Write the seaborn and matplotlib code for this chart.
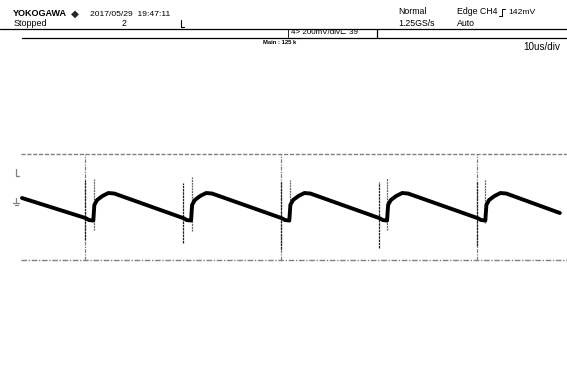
import matplotlib
matplotlib.use("Agg")
import matplotlib.pyplot as plt
from matplotlib.lines import Line2D
from matplotlib import font_manager
import seaborn as sns
import pandas as pd

# ---- captured trace (CH4), time in microseconds, level in millivolts ----
time_us = [0.0,
           11.5, 11.9, 12.4, 13.2, 13.4, 13.9, 14.9, 16.0, 17.1,
           29.6, 30.0, 30.5, 31.3, 31.5, 32.0, 33.0, 34.1, 35.2,
           47.8, 48.2, 48.7, 49.5, 49.7, 50.2, 51.2, 52.3, 53.4,
           65.9, 66.3, 66.8, 67.6, 67.8, 68.3, 69.3, 70.4, 71.5,
           84.1, 84.5, 85.0, 85.8, 86.0, 86.5, 87.5, 88.6, 89.7,
           99.6]
level_mv = [18.5,
            -54, -57, -63, -65, -7, 11, 26, 37, 35,
            -54, -57, -63, -65, -7, 11, 26, 37, 35,
            -54, -57, -63, -65, -7, 11, 26, 37, 35,
            -54, -57, -63, -65, -7, 11, 26, 37, 35,
            -54, -57, -63, -65, -7, 11, 26, 37, 35,
            -37]

# switching spikes (narrow glitches) and the ringing that follows them
spike_t = [11.7, 29.8, 48.0, 66.1, 84.3]
spike_hi = [85, 74, 78, 78, 78]
spike_lo = [-137, -148, -170, -167, -159]
ring_t = [13.3, 31.5, 49.6, 67.6, 85.7]
ring_hi = [89, 96, 85, 92, 89]
ring_lo = [-100, -104, -52, -100, -74]

# cursor / marker lines on the screen
cursor_t = [11.7, 48.0, 84.3]
upper_mv = 181
lower_mv = -211

W, H = 567, 372


def pick_font():
    for fam in ["Liberation Sans Narrow", "Liberation Sans", "DejaVu Sans"]:
        try:
            font_manager.findfont(fam, fallback_to_default=False)
            return fam
        except Exception:
            continue
    return "DejaVu Sans"


FONT = pick_font()
NARROW = FONT == "Liberation Sans Narrow"

sns.set_style("white")
plt.rcParams["font.family"] = [FONT, "DejaVu Sans"]

fig = plt.figure(figsize=(W / 100, H / 100), dpi=100)
ax = fig.add_axes([0, 0, 1, 1])
ax.set_xlim(-22 / 5.4, (W - 22) / 5.4)
ax.set_ylim((203 - H) * 3.7, 203 * 3.7)
ax.axis("off")

grid_c = "#808080"
# horizontal marker lines
ax.plot([-0.2, 110], [upper_mv, upper_mv], color=grid_c, lw=1.0,
        linestyle=(0, (3, 1.2)))
ax.plot([-0.2, 110], [lower_mv, lower_mv], color=grid_c, lw=1.0,
        linestyle=(0, (4, 1.2, 1, 1.2)))
for t in cursor_t:
    ax.plot([t, t], [lower_mv, upper_mv], color=grid_c, lw=0.9,
            linestyle=(0, (3, 1, 1, 1)))

# spikes
for t, hi, lo in zip(spike_t, spike_hi, spike_lo):
    ax.plot([t, t], [lo, hi], color="#202020", lw=0.9,
            linestyle=(0, (2, 0.6)))
for t, hi, lo in zip(ring_t, ring_hi, ring_lo):
    ax.plot([t, t], [lo, hi], color="#606060", lw=0.9,
            linestyle=(0, (1.5, 0.7)))

df = pd.DataFrame({"time_us": time_us, "level_mv": level_mv})
sns.lineplot(data=df, x="time_us", y="level_mv", ax=ax, sort=False,
             estimator=None, color="black", lw=2.8, legend=False)


def fp(x, y):
    return x / W, 1 - y / H


def ftext(x, y, s, size=6.5, weight="normal", ha="left", color="black"):
    fig.text(*fp(x, y), s, fontsize=size if NARROW else size * 0.85,
             fontweight=weight, ha=ha, va="center", color=color)


def fline(xs, ys, color="black", lw=0.8):
    fx = [x / W for x in xs]
    fy = [1 - y / H for y in ys]
    fig.add_artist(Line2D(fx, fy, color=color, lw=lw,
                          transform=fig.transFigure))


# header
ftext(13, 14, "YOKOGAWA", size=7.6, weight="bold")
fig.text(*fp(71, 14), "\u25c6", fontsize=7.5, va="center", ha="left",
         family="DejaVu Sans")
ftext(90, 14, "2017/05/29  19:47:11", size=7.2)
ftext(14, 24, "Stopped", size=7.6)
ftext(122, 24, "2", size=7.4)
fline([181, 181, 184], [20, 27, 27], lw=0.8)
ftext(398, 12, "Normal", size=7.4)
ftext(398, 23, "1.25GS/s", size=7.4)
ftext(457, 12, "Edge CH4", size=7.4)
fline([499, 502, 502, 505], [16, 16, 9, 9], lw=0.7)
ftext(508, 12, "142mV", size=7.2)
ftext(457, 23, "Auto", size=7.4)

fline([0, W], [29, 29], lw=0.9)
fline([22, W], [38, 38], lw=0.9)
fline([377, 377], [29, 37], lw=0.9)
fline([288, 288], [29, 37], lw=0.6)
ftext(291, 33, "4> 200mV/div\u228f 39", size=6.8)
ftext(263, 43, "Main : 125 k", size=5, weight="bold")
ftext(560, 47, "10us/div", size=8.4, ha="right")

# channel markers on the left edge
fline([16, 16, 19], [169, 176, 176], color=grid_c, lw=0.9)
fline([16, 16], [198, 202], color=grid_c, lw=0.9)
fline([13, 19], [203, 203], color=grid_c, lw=0.9)
fline([14.5, 17.5], [205.5, 205.5], color=grid_c, lw=0.9)

fig.savefig("out.png", dpi=100)
